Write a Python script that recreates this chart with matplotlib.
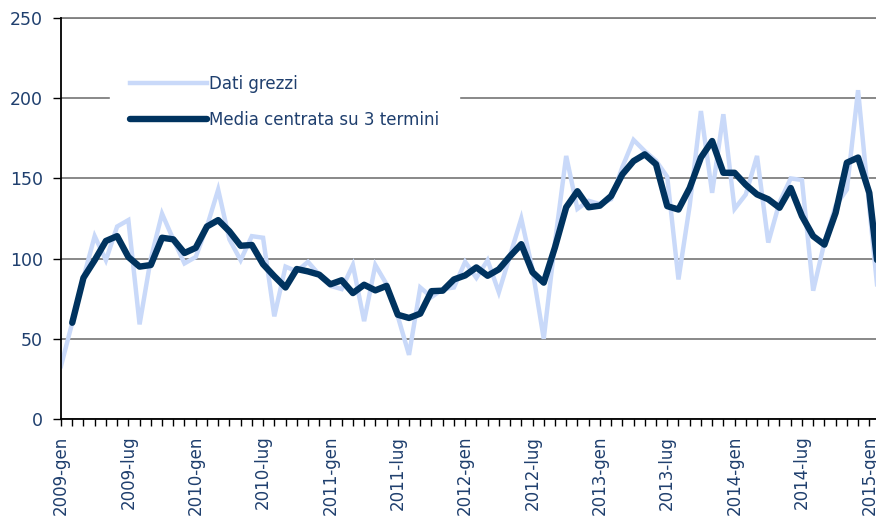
import numpy as np
import matplotlib
matplotlib.use("Agg")
import matplotlib.pyplot as plt

# ------------------ DATA ------------------

years = [2009, 2010, 2011, 2012, 2013, 2014, 2015]
month_names = ["gen", "feb", "mar", "apr", "mag", "giu",
               "lug", "ago", "set", "ott", "nov", "dic"]

# monthly raw values, 2009-gen .. 2015-feb
raw = [33, 60, 88, 114, 99, 120, 124, 59, 100, 128, 112, 97,
       101, 120, 143, 112, 99, 114, 113, 64, 95, 92, 98, 90,
       83, 81, 96, 61, 96, 84, 64, 40, 82, 76, 81, 82,
       98, 88, 99, 79, 102, 125, 93, 50, 110, 164, 131, 136,
       134, 137, 157, 174, 167, 161, 151, 87, 133, 192, 141, 190,
       131, 140, 164, 110, 135, 150, 149, 80, 110, 133, 143, 205,
       132, 62]

# centred 3-term moving average (first month has none)
media3 = [np.nan, 60, 88, 99, 111, 114, 101, 95, 96, 113, 112, 103.5,
          106.7, 120, 124, 117, 108, 108.5, 96.5, 89, 82, 93.5, 92, 90,
          84, 86.5, 78.5, 83.7, 80.2, 83, 65, 63, 65.7, 79.7, 80, 87,
          89.5, 94.5, 89.3, 93.3, 101.5, 109, 91.5, 85, 107, 132, 142, 132,
          133, 139, 152.5, 160.8, 165, 158.8, 132.7, 130.6, 144, 163, 173.3, 153.5,
          153.5, 146, 140, 137, 131.7, 144, 126.5, 114, 108.7, 128.5, 159.8, 163,
          141, 80]

labels = []
for y in years:
    for m in month_names:
        labels.append(f"{y}-{m}")
labels = labels[:len(raw)]

# ------------------ CHART ------------------

W, H = 876, 516
fig = plt.figure(figsize=(W / 100, H / 100), dpi=100)

left, right, top, bottom = 61, 876, 18, 419
ax = fig.add_axes([left / W, (H - bottom) / H, (right - left) / W, (bottom - top) / H])

x = np.arange(len(raw))
ax.plot(x, raw, color="#c9d9f9", lw=3.2, solid_joinstyle="miter",
        label="Dati grezzi", zorder=2)
ax.plot(x, media3, color="#00335f", lw=4.6, solid_joinstyle="round",
        solid_capstyle="round", label="Media centrata su 3 termini", zorder=3)

txt_col = "#1f3f6e"
ax.set_yticks([0, 50, 100, 150, 200, 250])
ax.tick_params(axis="y", direction="out", length=6, width=1, color="black",
               labelcolor=txt_col, labelsize=12.5, pad=7)
ax.yaxis.grid(True, color="#7f7f7f", lw=1.3, zorder=0)
ax.set_axisbelow(True)

ax.set_xticks(x)
ax.set_xticklabels([l if i % 6 == 0 else "" for i, l in enumerate(labels)],
                   rotation=90, color=txt_col, fontsize=12)
ax.tick_params(axis="x", direction="out", length=5, width=1, color="black", pad=7)

# limits after the ticks, so set_xticks does not widen them
month_px = 808.3 / 72
ax.set_xlim(0, (right - left) / month_px)
ax.set_ylim(0, 250)

for s in ["top", "right"]:
    ax.spines[s].set_visible(False)
ax.spines["left"].set_linewidth(1.3)
ax.spines["bottom"].set_linewidth(1.3)

# top gridline sits on the plot edge
ax.axhline(250, color="#7f7f7f", lw=1.3, clip_on=False, zorder=0)

leg = ax.legend(loc="upper left", bbox_to_anchor=(110 / W, (H - 55) / H),
                bbox_transform=fig.transFigure, frameon=True, fancybox=False,
                edgecolor="white", facecolor="white", framealpha=1,
                fontsize=12, handlelength=4.6, handletextpad=0.12,
                labelspacing=1.1, borderpad=1.2, borderaxespad=0)
for t in leg.get_texts():
    t.set_color(txt_col)

fig.savefig("out.png", dpi=100)
